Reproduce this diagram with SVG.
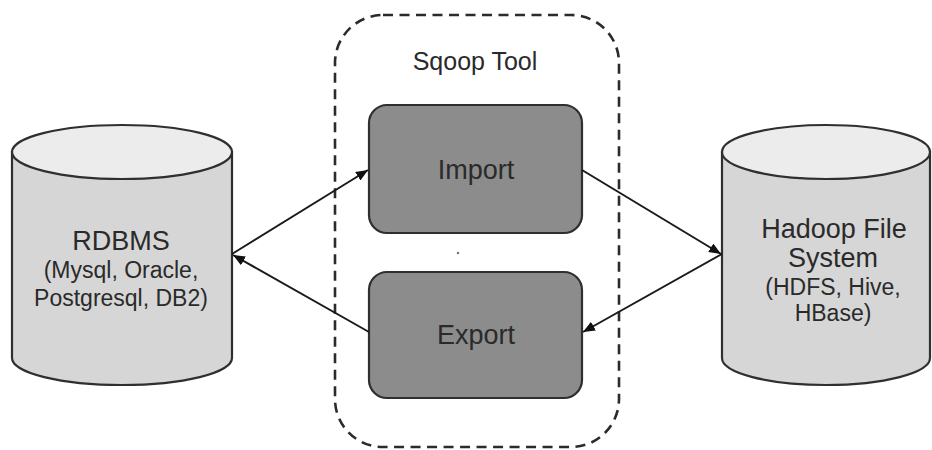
<svg xmlns="http://www.w3.org/2000/svg" width="932" height="450" viewBox="0 0 932 450">
  <defs>
    <marker id="arr" viewBox="0 0 12 10" refX="12" refY="5" markerWidth="12" markerHeight="10" markerUnits="userSpaceOnUse" orient="auto">
      <path d="M0,0 L12,5 L0,10 Z" fill="#111"/>
    </marker>
    <style>
      .body { fill: #d6d6d6; stroke: #2f2f2f; stroke-width: 2.2; }
      .top { fill: #ececec; stroke: #2f2f2f; stroke-width: 2.2; }
      .box { fill: #8c8c8c; stroke: #2f2f2f; stroke-width: 2.2; }
      .group { fill: none; stroke: #2b2b2b; stroke-width: 2.6; stroke-dasharray: 10 6.5; }
      .t { font-family: "Liberation Sans", Arial, sans-serif; fill: #2a2a2a; text-anchor: middle; }
      .big { font-size: 27px; }
      .small { font-size: 23px; }
      .conn { stroke: #1a1a1a; stroke-width: 2; fill: none; marker-end: url(#arr); }
    </style>
  </defs>
  <rect width="932" height="450" fill="#ffffff"/>

  <g id="sqoop-tool">
    <rect class="group" x="335" y="15" width="284" height="432" rx="48" ry="48"/>
    <text class="t" x="475" y="70" font-size="25">Sqoop Tool</text>
  </g>

  <g id="rdbms">
    <path class="body" d="M12,152 L12,358 A110,27 0 0 0 232,358 L232,152 Z"/>
    <ellipse class="top" cx="122" cy="152" rx="110" ry="27"/>
    <text class="t big" x="121" y="250">RDBMS</text>
    <text class="t small" x="121" y="278">(Mysql, Oracle,</text>
    <text class="t small" x="121" y="306">Postgresql, DB2)</text>
  </g>

  <g id="hadoop">
    <path class="body" d="M722,152 L722,358 A104,27 0 0 0 930,358 L930,152 Z"/>
    <ellipse class="top" cx="826" cy="152" rx="104" ry="27"/>
    <text class="t big" x="834" y="238">Hadoop File</text>
    <text class="t big" x="833" y="267">System</text>
    <text class="t small" x="833" y="295">(HDFS, Hive,</text>
    <text class="t small" x="833" y="321">HBase)</text>
  </g>

  <g id="import">
    <rect class="box" x="369" y="105" width="213" height="128" rx="18" ry="18"/>
    <text class="t big" x="476" y="179">Import</text>
  </g>

  <g id="export">
    <rect class="box" x="369" y="272" width="213" height="126" rx="18" ry="18"/>
    <text class="t big" x="476" y="344">Export</text>
  </g>

  <circle cx="458" cy="253" r="1.2" fill="#6a6a90"/>

  <g id="connectors">
    <path class="conn" d="M232,254 L368,170"/>
    <path class="conn" d="M582,170 L721,254"/>
    <path class="conn" d="M722,254 L583,332"/>
    <path class="conn" d="M369,332 L233,255"/>
  </g>
</svg>
